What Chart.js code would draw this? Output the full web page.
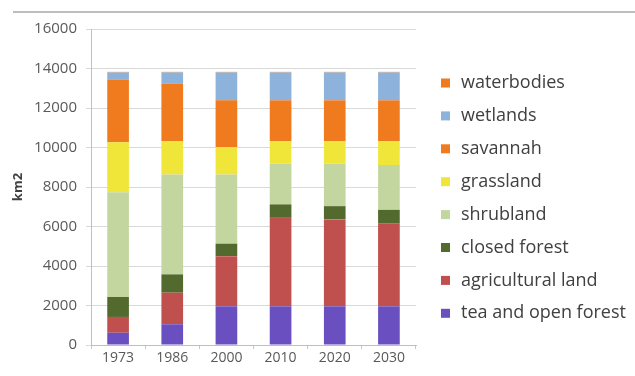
<!DOCTYPE html>
<html>
<head>
<meta charset="utf-8">
<script src="https://cdn.jsdelivr.net/npm/chart.js@4.4.1/dist/chart.umd.min.js"></script>
<style>
  html, body { margin: 0; padding: 0; background: #fff; }
  #wrap { position: relative; width: 635px; height: 376px; }
</style>
</head>
<body>
<div id="wrap"><canvas id="landChart" width="635" height="376"></canvas></div>
<script>
// land cover area per year, km2
const years = ['1973', '1986', '2000', '2010', '2020', '2030'];
const teaOpenForest = [620, 1050, 1960, 1960, 1960, 1960];
const agriculturalLand = [800, 1600, 2540, 4480, 4400, 4200];
const closedForest = [1010, 925, 630, 680, 670, 680];
const shrubland = [5310, 5055, 3500, 2060, 2150, 2270];
const grassland = [2530, 1690, 1390, 1140, 1140, 1210];
const savannah = [3170, 2920, 2370, 2070, 2070, 2070];
const wetlands = [360, 560, 1410, 1410, 1410, 1410];
const waterbodies = [30, 30, 30, 30, 30, 30];
const yTicks = [0, 2000, 4000, 6000, 8000, 10000, 12000, 14000, 16000];

const ctx = document.getElementById('landChart').getContext('2d');
const font = "'Open Sans', sans-serif";

// legend on the right, top entry = top of the stack
const sideLegend = {
    id: 'sideLegend',
    afterDraw(chart) {
        const c = chart.ctx;
        const sets = chart.data.datasets.slice().reverse();
        c.save();
        c.font = '18px ' + font;
        c.textBaseline = 'middle';
        sets.forEach((ds, i) => {
            const y = 83 + i * 32.9;
            c.fillStyle = ds.backgroundColor;
            c.fillRect(441, y - 4.5, 9, 9);
            c.fillStyle = '#404040';
            c.fillText(ds.label, 461, y);
        });
        // thin rule across the top
        c.strokeStyle = '#a8a8a8';
        c.lineWidth = 1.5;
        c.beginPath();
        c.moveTo(13, 12);
        c.lineTo(635, 12);
        c.stroke();
        c.restore();
    }
};

function ds(label, data, color) {
    return { label: label, data: data, backgroundColor: color, borderWidth: 0 };
}

new Chart(ctx, {
    type: 'bar',
    data: {
        labels: years,
        datasets: [
            ds('tea and open forest', teaOpenForest, '#6a4fc0'),
            ds('agricultural land', agriculturalLand, '#c0504d'),
            ds('closed forest', closedForest, '#536a2e'),
            ds('shrubland', shrubland, '#c4d6a0'),
            ds('grassland', grassland, '#f0e63a'),
            ds('savannah', savannah, '#f07a1e'),
            ds('wetlands', wetlands, '#8db2dc'),
            ds('waterbodies', waterbodies, '#f07a1e')
        ]
    },
    options: {
        responsive: false,
        animation: false,
        datasets: { bar: { categoryPercentage: 1, barPercentage: 0.4 } },
        layout: { padding: { left: 10, right: 219, top: 29, bottom: 0 } },
        plugins: { legend: { display: false }, tooltip: { enabled: false } },
        scales: {
            x: {
                stacked: true,
                grid: { display: true, drawOnChartArea: false, tickLength: 4, color: '#c8c8c8' },
                border: { color: '#bfbfbf' },
                ticks: { color: '#595959', font: { family: font, size: 14 }, padding: 1 },
                afterFit(s) { s.height = 31; }
            },
            y: {
                stacked: true,
                min: 0,
                max: 16000,
                afterBuildTicks(s) { s.ticks = yTicks.map(v => ({ value: v })); },
                grid: { color: '#d9d9d9', tickLength: 5 },
                border: { color: '#bfbfbf' },
                ticks: {
                    color: '#595959',
                    font: { family: font, size: 15 },
                    padding: 9,
                    callback: v => String(v)
                },
                title: {
                    display: true,
                    text: 'km2',
                    color: '#404040',
                    font: { family: font, size: 13, weight: 'bold' },
                    padding: 0
                },
                afterFit(s) { s.width = 81; }
            }
        }
    },
    plugins: [sideLegend]
});
</script>
</body>
</html>
